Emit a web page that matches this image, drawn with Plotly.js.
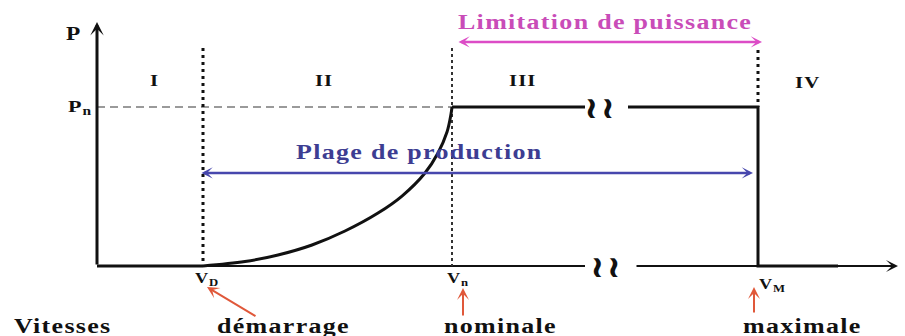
<!DOCTYPE html>
<html>
<head>
<meta charset="utf-8">
<script src="https://cdn.plot.ly/plotly-3.0.1.min.js"></script>
<style>
  html, body { margin: 0; padding: 0; background: #fff; }
  #chart { width: 905px; height: 336px; }
  .annotation-text {
    letter-spacing: 0.05em;
    transform-box: fill-box;
    transform-origin: center;
    transform: scaleX(1.3);
  }
</style>
</head>
<body>
<div id="chart"></div>
<script>
// ---- Data (schematic wind-turbine power curve, abstract units) ----
// Characteristic wind speeds
const vD = 10.6;   // démarrage
const vN = 35.5;   // nominale
const vM = 66.1;   // maximale
const Pn = 1.0;    // puissance nominale

// Zone II: power rising from vD to vN
const curveV = [10.6, 14.8, 18.1, 21.5, 24.8, 28.1, 30.5, 32.8, 34.1, 35.0, 35.4, 35.5];
const curveP = [0.0, 0.028, 0.069, 0.132, 0.220, 0.333, 0.440, 0.585, 0.711, 0.843, 0.956, 1.0];

// Flat parts of the power curve (break in the axis between 48.8 and 53.1)
const zone1V = [0, vD];
const zone1P = [0, 0];
const zone3aV = [vN, 48.8];
const zone3aP = [Pn, Pn];
const zone3bV = [53.1, vM, vM, 74.1];
const zone3bP = [Pn, Pn, 0, 0];

// Axis pieces
const xAxisV = [0, 48.8];
const xAxisP = [0, 0];
const xAxis2V = [53.8, 80.1];
const yAxisTop = 1.535;

// Labels
const zoneLabels = ['I', 'II', 'III', 'IV'];
const zoneLabelV = [5.7, 22.7, 42.5, 71.0];
const speedNames = ['démarrage', 'nominale', 'maximale'];
const speedSymbols = ['V<sub>D</sub>', 'V<sub>n</sub>', 'V<sub>M</sub>'];

const serif = 'Liberation Serif, Times New Roman, serif';
const black = '#111';

const traces = [
  // x axis (first part)
  {x: xAxisV, y: xAxisP, mode: 'lines', line: {color: black, width: 2}},
  // Pn dashed reference
  {x: [0, vN], y: [Pn, Pn], mode: 'lines', line: {color: '#7a7a7a', width: 1.5, dash: '8px,5px'}},
  // dotted verticals
  {x: [vD, vD], y: [1.371, 0], mode: 'lines', line: {color: black, width: 3, dash: '3px,4px'}},
  {x: [vN, vN], y: [1.371, 0], mode: 'lines', line: {color: '#333', width: 2, dash: '3px,3px'}},
  {x: [vM, vM], y: [1.358, Pn], mode: 'lines', line: {color: black, width: 3, dash: '3px,4px'}},
  // power curve
  {x: zone1V, y: zone1P, mode: 'lines', line: {color: black, width: 3}},
  {x: curveV, y: curveP, mode: 'lines', line: {color: black, width: 3, shape: 'spline', smoothing: 1.0}},
  {x: zone3aV, y: zone3aP, mode: 'lines', line: {color: black, width: 3}},
  {x: zone3bV, y: zone3bP, mode: 'lines', line: {color: black, width: 3}}
];

function txt(x, y, text, size, color, extra) {
  return Object.assign({
    x: x, y: y, xref: 'x', yref: 'y', text: text, showarrow: false,
    font: {family: serif, size: size, color: color, weight: 'bold'},
    xanchor: 'center', yanchor: 'middle'
  }, extra || {});
}
function arrow(x0, y0, x1, y1, color, width, head, size, side) {
  return {
    x: x1, y: y1, ax: x0, ay: y0, xref: 'x', yref: 'y', axref: 'x', ayref: 'y',
    text: '', showarrow: true, arrowcolor: color, arrowwidth: width,
    arrowhead: head, startarrowhead: head, arrowsize: size, startarrowsize: size,
    arrowside: side || 'end', standoff: 0, startstandoff: 0
  };
}

const breakFont = {family: 'DejaVu Sans', size: 30, color: black, weight: 'bold'};

const annotations = [
  // axes arrows
  arrow(0, 0, 0, yAxisTop, black, 3, 3, 0.75),
  arrow(xAxis2V[0], 0, xAxis2V[1], 0, black, 2, 3, 1.0),
  // axis breaks
  txt(50.3, Pn, '≀≀', 30, black, {font: breakFont}),
  txt(50.9, 0, '≀≀', 30, black, {font: breakFont}),
  // P and Pn
  txt(-2.35, 1.453, 'P', 18, black),
  txt(-1.7, Pn, 'P<sub>n</sub>', 17, black),
  // Limitation de puissance
  arrow(36.0, 1.409, 66.5, 1.409, '#dc4cc6', 2.5, 3, 0.75, 'end+start'),
  txt(50.8, 1.535, 'Limitation de puissance', 20, '#c94cb8'),
  // Plage de production
  arrow(10.3, 0.585, 65.6, 0.585, '#4747ad', 2.5, 3, 0.75, 'end+start'),
  txt(32.2, 0.717, 'Plage de production', 20, '#3d3d92'),
  // speed symbols
  txt(11.0, -0.082, speedSymbols[0], 14, black),
  txt(36.1, -0.082, speedSymbols[1], 14, black),
  txt(67.5, -0.12, speedSymbols[2], 14, black),
  // orange pointer arrows
  arrow(16.0, -0.321, 11.0, -0.132, '#e0583a', 2, 3, 1.0),
  arrow(36.6, -0.321, 36.6, -0.138, '#e0583a', 2, 3, 1.0),
  arrow(65.7, -0.302, 65.7, -0.132, '#e0583a', 2, 3, 1.0),
  // bottom words
  txt(-3.4, -0.375, 'Vitesses', 20, black),
  txt(18.6, -0.375, speedNames[0], 20, black),
  txt(40.3, -0.375, speedNames[1], 20, black),
  txt(70.5, -0.375, speedNames[2], 20, black)
];
zoneLabels.forEach((t, i) => {
  annotations.push(txt(zoneLabelV[i], i === 3 ? 1.157 : 1.17, t, 16, black));
});

const layout = {
  width: 905, height: 336,
  margin: {l: 0, r: 0, t: 0, b: 0},
  paper_bgcolor: '#ffffff', plot_bgcolor: '#ffffff',
  showlegend: false,
  xaxis: {range: [-9.7, 80.8], visible: false, fixedrange: true},
  yaxis: {range: [-0.4403, 1.673], visible: false, fixedrange: true},
  annotations: annotations
};

Plotly.newPlot('chart', traces, layout, {staticPlot: true, displayModeBar: false});
</script>
</body>
</html>
